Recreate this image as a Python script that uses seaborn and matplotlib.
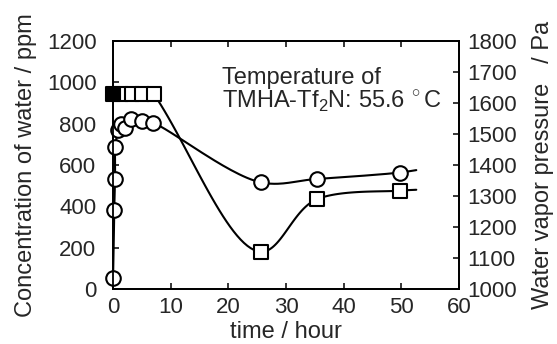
import numpy as np
import pandas as pd
import matplotlib
matplotlib.use("Agg")
import matplotlib.pyplot as plt
import seaborn as sns

# ================== DATA ==================
# concentration of water (left axis, ppm) - open circles
water_time = [0, 0.2, 0.35, 0.4, 0.9, 1.4, 2.0, 3.1, 5.1, 7.0, 25.6, 35.3, 49.7]
water_ppm = [52, 382, 531, 688, 770, 800, 780, 822, 815, 803, 516, 532, 563]
water_tail = (52.6, 575)

# water vapor pressure (right axis, Pa) - squares, first one filled
vapor_time = [0, 1.4, 3.2, 5.1, 7.1, 25.6, 35.3, 49.7]
vapor_pa = [1628, 1628, 1628, 1628, 1628, 1120, 1289, 1317]
vapor_tail = (52.6, 1320)

x_ticks = [0, 10, 20, 30, 40, 50, 60]
left_ticks = [0, 200, 400, 600, 800, 1000, 1200]
right_ticks = list(range(1000, 1801, 100))


# ================== HELPERS ==================
def smooth_path(xs, ys, xr, yr, n=30):
    # centripetal catmull-rom through the points, done in normalised units
    px = np.asarray(xs, float) / xr
    py = np.asarray(ys, float) / yr
    P = np.column_stack([px, py])
    P = np.vstack([2 * P[0] - P[1], P, 2 * P[-1] - P[-2]])
    out = []
    for i in range(1, len(P) - 2):
        p0, p1, p2, p3 = P[i - 1], P[i], P[i + 1], P[i + 2]
        t0 = 0.0
        t1 = t0 + max(np.linalg.norm(p1 - p0), 1e-6) ** 0.5
        t2 = t1 + max(np.linalg.norm(p2 - p1), 1e-6) ** 0.5
        t3 = t2 + max(np.linalg.norm(p3 - p2), 1e-6) ** 0.5
        for t in np.linspace(t1, t2, n, endpoint=False):
            a1 = (t1 - t) / (t1 - t0) * p0 + (t - t0) / (t1 - t0) * p1
            a2 = (t2 - t) / (t2 - t1) * p1 + (t - t1) / (t2 - t1) * p2
            a3 = (t3 - t) / (t3 - t2) * p2 + (t - t2) / (t3 - t2) * p3
            b1 = (t2 - t) / (t2 - t0) * a1 + (t - t0) / (t2 - t0) * a2
            b2 = (t3 - t) / (t3 - t1) * a2 + (t - t1) / (t3 - t1) * a3
            out.append((t2 - t) / (t2 - t1) * b1 + (t - t1) / (t2 - t1) * b2)
    out.append(P[-2])
    out = np.array(out)
    return pd.DataFrame({"x": out[:, 0] * xr, "y": out[:, 1] * yr})


# ================== PLOT ==================
sns.set_style("ticks")
plt.rcParams["font.family"] = ["Liberation Sans", "DejaVu Sans"]
plt.rcParams["mathtext.fontset"] = "custom"
plt.rcParams["mathtext.rm"] = "Liberation Sans"

fig = plt.figure(figsize=(5.57, 3.44), dpi=100)
ax = fig.add_axes([0.203, 0.160, 0.621, 0.721])
ax2 = ax.twinx()

water_line = smooth_path(water_time + [water_tail[0]], water_ppm + [water_tail[1]], 60, 1200)
vapor_line = smooth_path(vapor_time[-4:] + [vapor_tail[0]], vapor_pa[-4:] + [vapor_tail[1]], 60, 800)

sns.lineplot(data=water_line, x="x", y="y", sort=False, color="black", lw=1.5, ax=ax, zorder=2)
sns.lineplot(data=vapor_line, x="x", y="y", sort=False, color="black", lw=1.5, ax=ax2, zorder=2)

water = pd.DataFrame({"t": water_time, "v": water_ppm})
vapor = pd.DataFrame({"t": vapor_time, "v": vapor_pa})

sns.scatterplot(data=water, x="t", y="v", marker="o", s=110, facecolor="white",
                edgecolor="black", linewidth=1.5, ax=ax, zorder=3, clip_on=False)
sns.scatterplot(data=vapor.iloc[1:], x="t", y="v", marker="s", s=95, facecolor="white",
                edgecolor="black", linewidth=1.5, ax=ax2, zorder=3, clip_on=False)
sns.scatterplot(data=vapor.iloc[:1], x="t", y="v", marker="s", s=95, facecolor="black",
                edgecolor="black", linewidth=1.5, ax=ax2, zorder=4, clip_on=False)

ax.set_xlim(0, 60)
ax.set_ylim(0, 1200)
ax2.set_ylim(1000, 1800)
ax.set_xticks(x_ticks)
ax.set_yticks(left_ticks)
ax2.set_yticks(right_ticks)

for a in (ax, ax2):
    for s in a.spines.values():
        s.set_visible(True)
        s.set_linewidth(1.3)
        s.set_color("black")
ax.tick_params(axis="x", direction="in", top=True, length=4, width=1.3, labelsize=16, pad=6)
ax.tick_params(axis="y", direction="in", length=4, width=1.3, labelsize=16, pad=12)
ax2.tick_params(axis="y", direction="in", length=4, width=1.3, labelsize=16, pad=6)

ax.set_xlabel("time / hour", fontsize=17, labelpad=2)
ax.set_ylabel("Concentration of water / ppm", fontsize=17, labelpad=7)
ax2.set_ylabel("Water vapor pressure   / Pa", fontsize=17, labelpad=11)

ax.text(0.315, 0.827, "Temperature of", transform=ax.transAxes,
        fontsize=17, va="baseline", ha="left")
ax.text(0.315, 0.730, "TMHA-Tf$_2$N: 55.6$\\,^\\circ$C", transform=ax.transAxes,
        fontsize=17, va="baseline", ha="left")

fig.savefig("out.png", dpi=100)
